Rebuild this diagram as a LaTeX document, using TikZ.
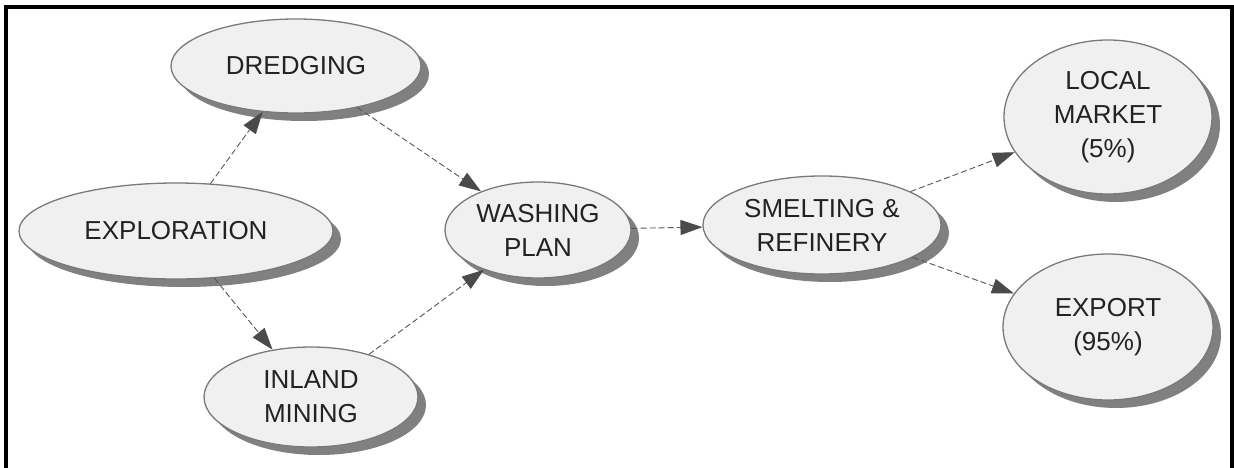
\documentclass[tikz,border=0pt]{standalone}
\usepackage{fontspec}
\setmainfont{Liberation Sans}
\usetikzlibrary{shapes.geometric,arrows.meta,shadows}
\definecolor{nodefill}{HTML}{F0F0F0}
\definecolor{nodeedge}{HTML}{7A7A7A}
\definecolor{linkcol}{HTML}{555555}
\definecolor{tipcol}{HTML}{4A4A4A}
\definecolor{txtcol}{HTML}{222222}
\tikzset{
  bubble/.style={ellipse, draw=nodeedge, line width=1.3pt, fill=nodefill,
    inner sep=0pt, align=center, text=txtcol,
    font=\fontsize{26}{34}\selectfont,
    drop shadow={shadow xshift=8pt, shadow yshift=-8pt, fill=black!50, draw=none, opacity=1}},
  link/.style={draw=linkcol, line width=0.9pt, dash pattern=on 6pt off 3pt,
    -{Triangle[length=22pt,width=15pt,fill=tipcol,color=tipcol]}},
  frameline/.style={draw=black, line width=4pt}
}
\begin{document}
\begin{tikzpicture}[x=1pt,y=-1pt]
\useasboundingbox (0,0) rectangle (1234,468);
\draw[frameline] (6,470) -- (6,7) -- (1232,7) -- (1232,470);

\node[bubble, minimum width=250pt, minimum height=94pt] (dredge) at (296,66) {DREDGING};
\node[bubble, minimum width=314pt, minimum height=96pt] (explore) at (176,231) {EXPLORATION};
\node[bubble, minimum width=214pt, minimum height=100pt] (inland) at (311,397) {INLAND\\MINING};
\node[bubble, minimum width=186pt, minimum height=96pt] (wash) at (538,230) {WASHING\\PLAN};
\node[bubble, minimum width=238pt, minimum height=98pt] (smelt) at (822,225) {SMELTING \&\\REFINERY};
\node[bubble, minimum width=208pt, minimum height=154pt] (local) at (1108,117) {LOCAL\\MARKET\\(5\%)};
\node[bubble, minimum width=210pt, minimum height=146pt] (export) at (1108,327) {EXPORT\\(95\%)};

\draw[link] (explore) -- (dredge);
\draw[link] (explore) -- (inland);
\draw[link] (dredge) -- (wash);
\draw[link] (inland) -- (wash);
\draw[link] (wash) -- (smelt);
\draw[link] (smelt) -- (local);
\draw[link] (smelt) -- (export);
\end{tikzpicture}
\end{document}
